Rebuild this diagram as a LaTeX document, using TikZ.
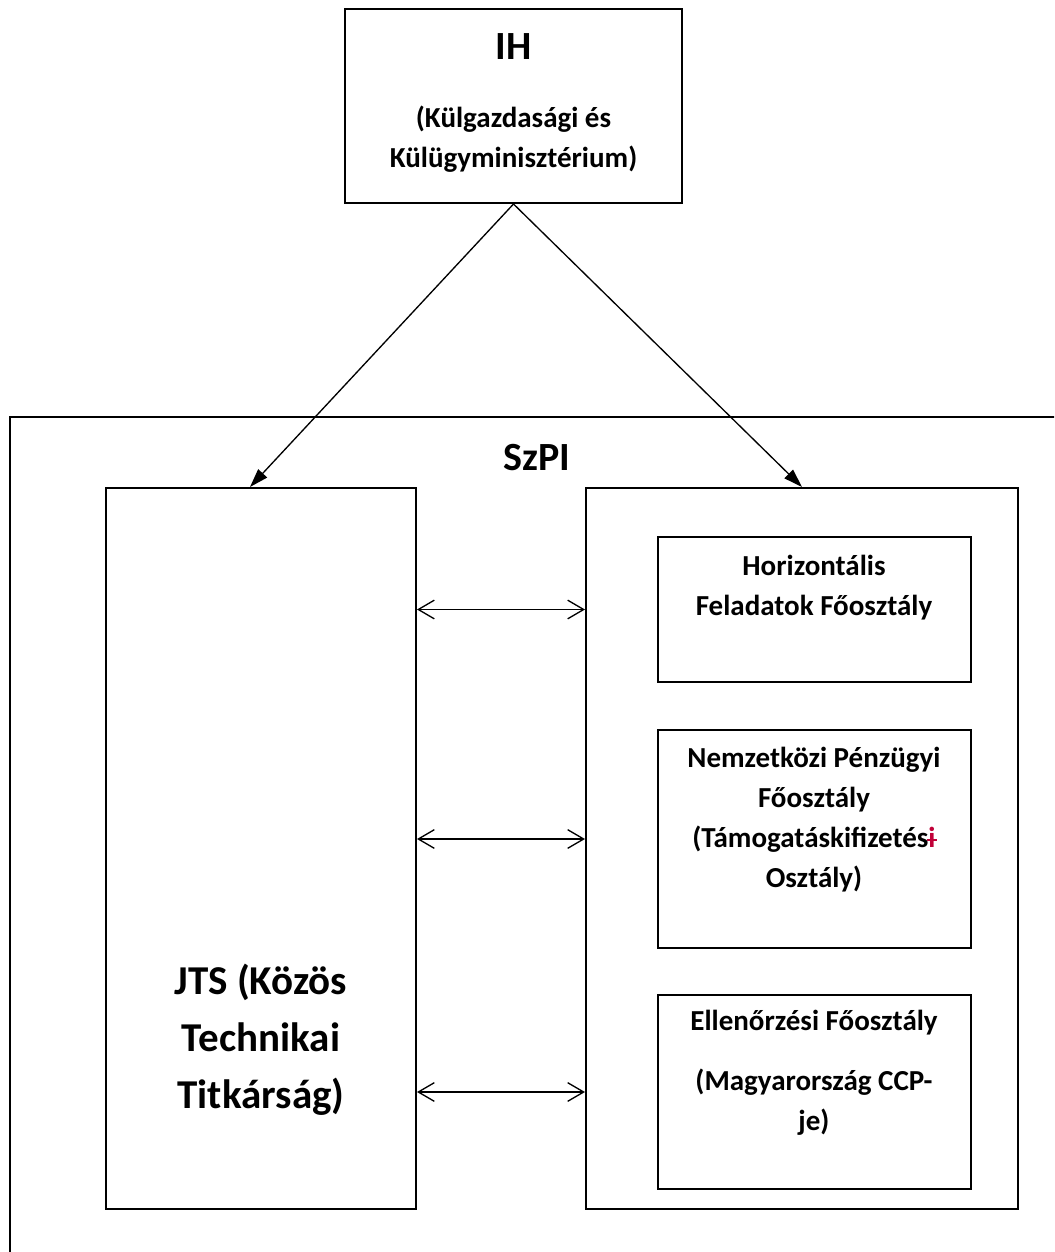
\documentclass[tikz,border=0pt]{standalone}
\usepackage{fontspec}
\setmainfont{Carlito}
\usepackage{xcolor}
\usetikzlibrary{arrows.meta}

\definecolor{delred}{RGB}{192,0,56}
\newcommand{\struck}[1]{{\color{delred}\ooalign{#1\cr\hidewidth\rule[0.24em]{0.34em}{0.07em}\hidewidth\cr}}}

\begin{document}
\begin{tikzpicture}[x=0.75pt,y=-0.75pt]
\tikzset{unit/.style={draw,line width=1.5pt,inner sep=0pt}}
\tikzset{txt/.style={align=center,inner sep=0pt,font=\bfseries\fontsize{21.75pt}{30pt}\selectfont}}
\tikzset{big/.style={align=center,inner sep=0pt,font=\bfseries\fontsize{30.75pt}{42.75pt}\selectfont}}
\tikzset{feed/.style={line width=1pt,-{Triangle[length=14pt,width=9pt]}}}
\tikzset{link/.style={line width=1pt,{Straight Barb[length=12pt,width=14pt]}-{Straight Barb[length=12pt,width=14pt]}}}

\clip (0,0) rectangle (1054,1252);

\node[unit,minimum width=795pt,minimum height=639.75pt] (szpi) at (540,843.5) {};
\node[big,font=\bfseries\fontsize{30pt}{36pt}\selectfont] (szpi-txt) at (537,458) {SzPI};

\node[unit,minimum width=252.75pt,minimum height=145.5pt] (ih) at (513.5,106) {};
\node[big,font=\bfseries\fontsize{30pt}{36pt}\selectfont] (ih-txt) at (513.5,47) {IH};
\node[txt] (ih-sub) at (513.5,139) {(Külgazdasági és\\Külügyminisztérium)};

\node[unit,minimum width=232.5pt,minimum height=540.75pt] (jts) at (261,848.5) {};
\node[big] (jts-txt) at (261,1040) {JTS (Közös\\Technikai\\Titkárság)};

\node[unit,minimum width=324pt,minimum height=540.75pt] (dept) at (802,848.5) {};
\node[unit,minimum width=234.75pt,minimum height=108.75pt] (horiz) at (814,609.5) {};
\node[txt] (horiz-txt) at (814,588) {Horizontális\\Feladatok Főosztály};
\node[unit,minimum width=234.75pt,minimum height=163.5pt] (nemz) at (814,839) {};
\node[txt] (nemz-txt) at (814,820) {Nemzetközi Pénzügyi\\Főosztály\\(Támogatáskifizetés\struck{i}\\Osztály)};
\node[unit,minimum width=234.75pt,minimum height=145.5pt] (ell) at (814,1092) {};
\node[txt] (ell-txt) at (814,1073) {Ellenőrzési Főosztály\\[15pt](Magyarország CCP-\\je)};

\draw[feed] (ih.south) -- ([xshift=-8.25pt]jts.north);
\draw[feed] (ih.south) -- (dept.north);

\draw[link] (horiz.west -| jts.east) -- (horiz.west -| dept.west);
\draw[link] (nemz.west -| jts.east) -- (nemz.west -| dept.west);
\draw[link] (ell.west -| jts.east) -- (ell.west -| dept.west);

\end{tikzpicture}
\end{document}
